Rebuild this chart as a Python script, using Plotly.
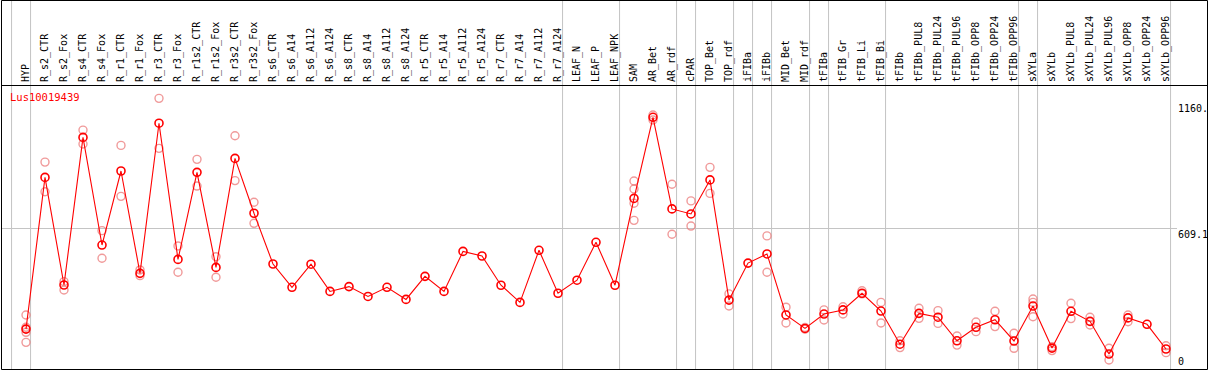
import plotly.graph_objects as go

# ---------------- data ----------------
categories = [
    "HYP", "R_s2_CTR", "R_s2_Fox", "R_s4_CTR", "R_s4_Fox", "R_r1_CTR", "R_r1_Fox",
    "R_r3_CTR", "R_r3_Fox", "R_r1s2_CTR", "R_r1s2_Fox", "R_r3s2_CTR", "R_r3s2_Fox",
    "R_s6_CTR", "R_s6_A14", "R_s6_A112", "R_s6_A124", "R_s8_CTR", "R_s8_A14",
    "R_s8_A112", "R_s8_A124", "R_r5_CTR", "R_r5_A14", "R_r5_A112", "R_r5_A124",
    "R_r7_CTR", "R_r7_A14", "R_r7_A112", "R_r7_A124", "LEAF_N", "LEAF_P", "LEAF_NPK",
    "SAM", "AR_Bet", "AR_rdf", "cPAR", "TOP_Bet", "TOP_rdf", "iFIBa", "iFIBb",
    "MID_Bet", "MID_rdf", "tFIBa", "tFIB_Gr", "tFIB_Li", "tFIB_Bi", "tFIBb",
    "tFIBb_PUL8", "tFIBb_PUL24", "tFIBb_PUL96", "tFIBb_OPP8", "tFIBb_OPP24",
    "tFIBb_OPP96", "sXYLa", "sXYLb", "sXYLb_PUL8", "sXYLb_PUL24", "sXYLb_PUL96",
    "sXYLb_OPP8", "sXYLb_OPP24", "sXYLb_OPP96",
]

mean_values = [
    168, 832, 361, 1007, 536, 860, 412, 1069, 473, 854, 438, 915, 675,
    453, 351, 452, 333, 354, 311, 351, 298, 399, 333, 508, 488,
    360, 285, 513, 325, 382, 548, 360,
    740, 1095, 694, 672, 821, 295, 457, 497,
    230, 171, 234, 252, 325, 247, 102,
    237, 220, 117, 176, 209, 116, 269, 85,
    246, 202, 59, 217, 189, 81,
]

# replicate measurements: (category index, value)
replicate_index = [
    0, 0, 0, 0,
    1, 1, 2, 2, 3, 3, 4, 4, 5, 5, 6, 6, 7, 7, 8, 8,
    9, 9, 10, 10, 11, 11, 12, 12,
    32, 32, 32, 32, 33, 33, 34, 34, 35, 35, 36, 36, 37, 37,
    39, 39, 40, 40, 41, 41, 42, 42, 43, 43, 44, 44, 45, 45,
    46, 46, 47, 47, 48, 48, 49, 49, 50, 50, 51, 51, 52, 52,
    53, 53, 53, 54, 54, 55, 55, 56, 56, 57, 57, 58, 58, 60, 60,
]
replicate_values = [
    230, 176, 154, 110,
    899, 769, 376, 339, 1039, 978, 599, 478, 972, 749, 427, 402, 1178, 959, 532, 417,
    911, 794, 485, 395, 1014, 818, 723, 631,
    816, 781, 719, 644, 1105, 1083, 802, 583, 729, 619, 876, 762, 322, 269,
    576, 417, 264, 195, 175, 168, 252, 208, 266, 234, 336, 322, 285, 195,
    117, 87, 259, 215, 249, 193, 138, 98, 199, 157, 246, 179, 150, 84,
    300, 285, 222, 91, 74, 281, 214, 220, 186, 84, 33, 230, 200, 95, 65,
]

group_end_index = [-1, 0, 28, 31, 34, 35, 37, 38, 39, 41, 42, 45, 52, 53, 60]
y_tick_values = [1160, 609.1, 0]
y_tick_labels = ["1160.", "609.1", "0"]
grid_values = [609.1]
gene_name = "Lus10019439"

# ---------------- layout geometry ----------------
W, H = 1209, 370
ML, MR, MT, MB = 1, 32, 86, 1
PW, PH = W - ML - MR, H - MT - MB
STEP = 19.0
FIRST = 26.0
x_range = [(ML - FIRST) / STEP, (ML + PW - FIRST) / STEP]
y_zero_px, y_scale = 367.5, 0.2285
y_range = [(y_zero_px - (MT + PH)) / y_scale, (y_zero_px - MT) / y_scale]


def px_x(p):
    return (p - ML) / PW


def px_y(p):
    return (MT + PH - p) / PH


MONO = "DejaVu Sans Mono"
RED = "#ff0000"
PINK = "rgba(235,120,120,0.75)"
GRAY = "#c4c4c4"

x_idx = list(range(len(categories)))

fig = go.Figure()
fig.add_trace(go.Scatter(
    x=replicate_index, y=replicate_values, mode="markers",
    marker=dict(symbol="circle-open", size=8, color=PINK, line=dict(width=1.4, color=PINK)),
    hoverinfo="skip", showlegend=False,
))
fig.add_trace(go.Scatter(
    x=x_idx, y=mean_values, mode="lines+markers",
    line=dict(color=RED, width=1.1),
    marker=dict(symbol="circle-open", size=8, color=RED, line=dict(width=1.6, color=RED)),
    showlegend=False,
))

shapes = []
for g in group_end_index:
    shapes.append(dict(type="line", xref="x", yref="paper", x0=g + 0.24, x1=g + 0.24,
                       y0=0, y1=px_y(0), line=dict(color=GRAY, width=1), layer="below"))
# frame
shapes.append(dict(type="rect", xref="paper", yref="paper",
                   x0=px_x(1.5), x1=px_x(1207.5), y0=px_y(369.5), y1=px_y(0.5),
                   line=dict(color="black", width=1)))
shapes.append(dict(type="line", xref="paper", yref="paper",
                   x0=px_x(1.5), x1=px_x(1207.5), y0=px_y(85.5), y1=px_y(85.5),
                   line=dict(color="black", width=1)))

annotations = [dict(text=gene_name, xref="paper", yref="paper", x=px_x(8), y=px_y(97),
                    xanchor="left", yanchor="middle", showarrow=False,
                    font=dict(family=MONO, size=10.5, color=RED))]
for v, t in zip(y_tick_values, y_tick_labels):
    annotations.append(dict(text=t, xref="paper", yref="y", x=px_x(1177), y=v,
                            xanchor="left", yanchor="top" if v > 0 else "bottom",
                            showarrow=False, borderpad=0,
                            font=dict(family=MONO, size=10, color="black")))

fig.update_layout(
    width=W, height=H, margin=dict(l=ML, r=MR, t=MT, b=MB, pad=0),
    paper_bgcolor="white", plot_bgcolor="white",
    xaxis=dict(range=x_range, side="top", tickmode="array", tickvals=x_idx,
               ticktext=categories, tickangle=-90, showgrid=False, zeroline=False,
               showline=False, ticks="", ticklabelstandoff=3,
               tickfont=dict(family=MONO, size=10, color="black")),
    yaxis=dict(range=y_range, tickmode="array", tickvals=grid_values, showticklabels=False,
               showgrid=True, gridcolor=GRAY, gridwidth=1, zeroline=False, showline=False),
    shapes=shapes, annotations=annotations,
)

fig.write_html("out.html", config={"displayModeBar": False},
               post_script="document.body.style.margin='0';document.body.style.overflow='hidden';")
